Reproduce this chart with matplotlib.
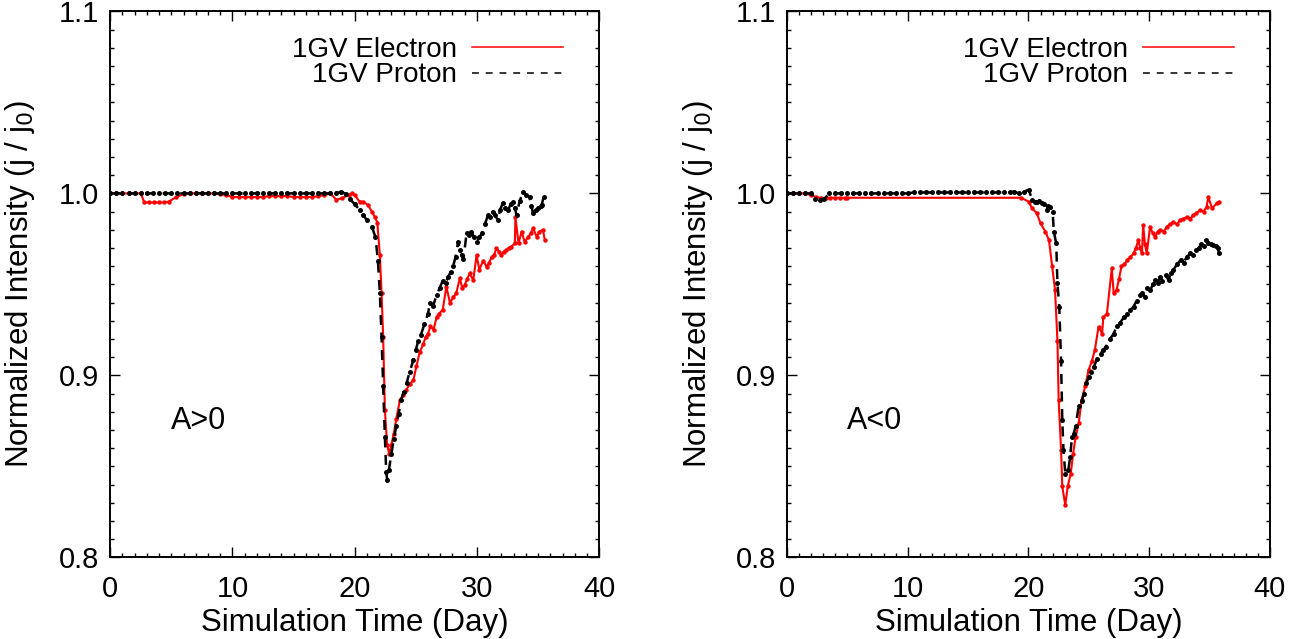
import matplotlib
matplotlib.use("Agg")
import matplotlib.pyplot as plt
from matplotlib.lines import Line2D
from matplotlib.ticker import MultipleLocator

plt.rcParams['font.family'] = ['Liberation Sans', 'DejaVu Sans']

# ---- A>0 : 1GV electron ----
t_elec_pos = [0.0, 0.5, 1.0, 1.5, 2.0, 2.5, 2.8, 3.2, 3.6, 4.0, 4.4, 4.8, 5.4, 6.0, 6.5,
              7.0, 7.5, 8.0, 8.5, 9.0, 9.5, 10.0, 10.5, 11.0, 11.5, 12.0, 12.5, 13.0, 13.5,
              14.0, 14.5, 15.0, 15.5, 16.0, 16.5, 17.0, 17.5, 18.0, 18.5, 19.0, 19.5, 19.75,
              20.0, 20.4, 20.7, 21.1, 21.4, 21.65, 21.85, 22.06, 22.2, 22.33, 22.47, 22.65,
              22.82, 23.0, 23.2, 23.4, 23.7, 23.95, 24.2, 24.5, 24.8, 25.05, 25.33, 25.6,
              25.8, 26.0, 26.2, 26.45, 26.7, 26.9, 27.2, 27.5, 27.8, 28.05, 28.3, 28.6, 28.8,
              29.0, 29.2, 29.4, 29.7, 29.97, 30.2, 30.5, 30.8, 31.0, 31.2, 31.4, 31.6, 31.8,
              32.0, 32.2, 32.4, 32.6, 32.8, 33.1, 33.15, 33.4, 33.65, 33.9, 34.2, 34.4, 34.6,
              34.9, 35.1, 35.4, 35.55]
j_elec_pos = [1.0, 1.0, 1.0, 1.0, 1.0, 1.0, 0.995, 0.995, 0.995, 0.995, 0.995, 0.9955, 0.998,
              0.9995, 1.0, 1.0, 1.0, 1.0, 1.0, 0.9995, 0.999, 0.998, 0.998, 0.998, 0.998,
              0.998, 0.998, 0.9985, 0.9985, 0.9985, 0.9985, 0.998, 0.998, 0.998, 0.998,
              0.9985, 0.999, 1.0, 0.9965, 0.9975, 0.999, 1.0, 0.999, 0.9955, 0.9954, 0.9936,
              0.990, 0.987, 0.984, 0.966, 0.945, 0.921, 0.881, 0.862, 0.857, 0.862, 0.868,
              0.876, 0.8865, 0.889, 0.892, 0.895, 0.8974, 0.905, 0.913, 0.917, 0.921, 0.923,
              0.927, 0.925, 0.932, 0.934, 0.936, 0.9487, 0.9397, 0.943, 0.945, 0.9533, 0.948,
              0.9496, 0.953, 0.956, 0.9524, 0.966, 0.958, 0.963, 0.9597, 0.962, 0.965, 0.966,
              0.970, 0.968, 0.966, 0.968, 0.969, 0.970, 0.9707, 0.9725, 0.987, 0.9725, 0.979,
              0.9734, 0.976, 0.978, 0.9808, 0.976, 0.979, 0.980, 0.9743]

# ---- A>0 : 1GV proton ----
t_prot_pos = [0.0, 0.5, 1.0, 1.5, 2.0, 2.5, 3.0, 3.5, 4.0, 4.5, 5.0, 5.5, 6.0, 6.5, 7.0, 7.5,
              8.0, 8.5, 9.0, 9.5, 10.0, 10.5, 11.0, 11.5, 12.0, 12.5, 13.0, 13.5, 14.0, 14.5,
              15.0, 15.5, 16.0, 16.5, 17.0, 17.5, 18.0, 18.5, 18.9, 19.3, 19.6, 20.0, 20.4,
              20.7, 21.0, 21.4, 21.7, 21.9, 22.06, 22.2, 22.33, 22.47, 22.58, 22.66, 22.8,
              23.0, 23.2, 23.4, 23.6, 23.8, 24.0, 24.24, 24.5, 24.8, 25.0, 25.2, 25.4, 25.7,
              26.0, 26.15, 26.4, 26.7, 26.95, 27.2, 27.45, 27.65, 27.85, 28.05, 28.25, 28.46,
              28.6, 28.75, 28.9, 29.15, 29.35, 29.55, 29.75, 29.97, 30.2, 30.4, 30.65, 30.9,
              31.1, 31.3, 31.5, 31.7, 31.9, 32.1, 32.3, 32.55, 32.75, 32.96, 33.1, 33.24, 33.5,
              33.8, 34.05, 34.3, 34.45, 34.6, 34.8, 35.0, 35.2, 35.3, 35.45]
j_prot_pos = [1.0, 1.0, 1.0, 1.0, 1.0, 1.0, 1.0, 1.0, 1.0, 1.0, 1.0, 1.0, 1.0, 1.0, 1.0, 1.0,
              1.0, 1.0, 1.0, 1.0, 1.0, 1.0, 1.0, 1.0, 1.0, 1.0, 1.0, 1.0, 1.0, 1.0,
              1.0, 1.0, 1.0, 1.0, 1.0, 1.0, 1.0, 1.0, 1.001, 0.9995, 0.997, 0.994, 0.991,
              0.988, 0.9853, 0.9817, 0.976, 0.963, 0.945, 0.921, 0.894, 0.8663, 0.847, 0.8425,
              0.848, 0.857, 0.865, 0.872, 0.879, 0.8865, 0.891, 0.8956, 0.902, 0.9084, 0.914,
              0.919, 0.922, 0.928, 0.934, 0.9396, 0.938, 0.944, 0.948, 0.952, 0.951, 0.954,
              0.957, 0.960, 0.965, 0.9734, 0.969, 0.966, 0.964, 0.978, 0.977, 0.979, 0.976,
              0.9734, 0.976, 0.978, 0.983, 0.988, 0.987, 0.990, 0.988, 0.9853, 0.991, 0.9945,
              0.992, 0.9908, 0.994, 0.9954, 0.992, 0.988, 0.996, 1.001, 0.999, 0.998, 0.993,
              0.989, 0.991, 0.9918, 0.993, 0.9936, 0.998]

# ---- A<0 : 1GV electron ----
t_elec_neg = [0.0, 0.5, 1.0, 1.5, 2.0, 2.4, 2.8, 3.2, 3.6, 4.0, 4.4, 4.8, 5.0, 19.4, 20.03,
              20.3, 20.7, 21.0, 21.4, 21.7, 21.96, 22.2, 22.4, 22.5, 22.7, 22.8, 23.05, 23.25,
              23.5, 23.7, 23.9, 24.16, 24.4, 24.7, 24.98, 25.26, 25.5, 25.8, 26.1, 26.2, 26.5,
              26.9, 27.06, 27.3, 27.5, 27.7, 27.95, 28.2, 28.45, 28.7, 28.9, 29.1, 29.25, 29.4,
              29.5, 29.65, 29.8, 30.07, 30.3, 30.5, 30.7, 30.9, 31.2, 31.45, 31.7, 32.0, 32.3,
              32.55, 32.8, 33.1, 33.4, 33.65, 33.9, 34.2, 34.5, 34.75, 34.9, 35.2, 35.6, 35.8]
j_elec_neg = [1.0, 1.0, 1.0, 1.0, 0.999, 0.998, 0.9975, 0.9975, 0.9976, 0.9976, 0.9976,
              0.9976, 0.9976, 0.9976, 0.9954, 0.9918, 0.989, 0.9835, 0.979, 0.9743, 0.960,
              0.947, 0.919, 0.8864, 0.859, 0.839, 0.8287, 0.839, 0.846, 0.857, 0.866, 0.8736,
              0.8864, 0.894, 0.903, 0.908, 0.914, 0.9267, 0.923, 0.932, 0.934, 0.9588, 0.945,
              0.947, 0.953, 0.960, 0.961, 0.9634, 0.965, 0.967, 0.970, 0.9743, 0.970, 0.967,
              0.9826, 0.972, 0.967, 0.9817, 0.978, 0.976, 0.979, 0.980, 0.979, 0.9817, 0.983,
              0.9844, 0.983, 0.9853, 0.986, 0.987, 0.986, 0.988, 0.989, 0.9908, 0.990, 0.9926,
              0.998, 0.9918, 0.9945, 0.9954]

# ---- A<0 : 1GV proton ----
t_prot_neg = [0.0, 0.5, 1.0, 1.5, 2.0, 2.3, 2.7, 3.1, 3.5, 4.0, 4.5, 5.0, 5.5, 6.0, 6.5, 7.0,
              7.5, 8.0, 8.5, 9.0, 9.5, 10.0, 10.5, 11.0, 11.5, 12.0, 12.5, 13.0, 13.5, 14.0,
              14.5, 15.0, 15.5, 16.0, 16.5, 17.0, 17.5, 18.0, 18.5, 18.8, 19.2, 19.6, 20.03,
              20.3, 20.5, 20.7, 20.9, 21.1, 21.3, 21.5, 21.65, 21.8, 22.0, 22.1, 22.3, 22.4,
              22.55, 22.7, 22.8, 22.9, 23.05, 23.3, 23.45, 23.6, 23.75, 23.9, 24.16, 24.4,
              24.6, 24.8, 25.0, 25.2, 25.4, 25.7, 25.97, 26.2, 26.4, 26.75, 27.06, 27.3, 27.6,
              27.9, 28.2, 28.45, 28.7, 28.95, 29.2, 29.4, 29.65, 29.85, 30.1, 30.3, 30.5, 30.7,
              30.9, 31.1, 31.35, 31.6, 31.8, 32.0, 32.3, 32.6, 32.85, 33.1, 33.4, 33.65, 33.9,
              34.1, 34.3, 34.5, 34.7, 34.9, 35.1, 35.3, 35.5, 35.7, 35.75]
j_prot_neg = [1.0, 1.0, 1.0, 1.0, 1.0, 0.997, 0.9965, 0.997, 1.0, 1.0, 1.0, 1.0, 1.0, 1.0,
              1.0, 1.0, 1.0, 1.0, 1.0, 1.0, 1.0, 1.0, 1.0005, 1.0005, 1.0005, 1.0005, 1.0005,
              1.0005, 1.0005, 1.0005, 1.0005, 1.0005, 1.0005, 1.0005, 1.0005, 1.0005, 1.0005,
              1.0005, 1.0005, 1.001, 1.0, 1.001, 1.002, 0.9963, 0.995, 0.9954, 0.996, 0.9945,
              0.994, 0.9908, 0.993, 0.9926, 0.990, 0.979, 0.9725, 0.9505, 0.9377, 0.908,
              0.8754, 0.859, 0.846, 0.848, 0.855, 0.866, 0.868, 0.872, 0.883, 0.886, 0.890,
              0.896, 0.899, 0.902, 0.9047, 0.909, 0.912, 0.914, 0.9157, 0.920, 0.923, 0.927,
              0.929, 0.932, 0.934, 0.936, 0.9377, 0.941, 0.944, 0.945, 0.943, 0.948, 0.9469,
              0.950, 0.9524, 0.951, 0.954, 0.952, 0.955, 0.9524, 0.956, 0.958, 0.961, 0.9634,
              0.962, 0.965, 0.967, 0.966, 0.9688, 0.970, 0.972, 0.971, 0.9743, 0.973, 0.972,
              0.9716, 0.971, 0.970, 0.9674]

panels = [
    ("A>0", t_elec_pos, j_elec_pos, t_prot_pos, j_prot_pos),
    ("A<0", t_elec_neg, j_elec_neg, t_prot_neg, j_prot_neg),
]
axes_rects = [[0.0845, 0.1277, 0.375, 0.8545], [0.6035, 0.1277, 0.3704, 0.8545]]

red = '#ff0000'

fig = plt.figure(figsize=(13.04, 6.39), dpi=100)

for rect, (tag, te, je, tp, jp) in zip(axes_rects, panels):
    ax = fig.add_axes(rect)
    ax.plot(te, je, color=red, lw=1.5, marker='o', ms=3.2, mew=0, zorder=3)
    ax.plot(tp, jp, color='black', lw=1.8, ls='--', dashes=(4.0, 3.0), marker='o',
            ms=3.6, mew=0, zorder=4)

    ax.set_xlim(0, 40)
    ax.set_ylim(0.8, 1.1)
    ax.xaxis.set_major_locator(MultipleLocator(10))
    ax.xaxis.set_minor_locator(MultipleLocator(1))
    ax.yaxis.set_major_locator(MultipleLocator(0.1))
    ax.yaxis.set_minor_locator(MultipleLocator(0.01))
    ax.yaxis.set_major_formatter(plt.FormatStrFormatter('%.1f'))
    ax.tick_params(which='both', direction='in', top=True, right=True, width=1.0,
                   labelsize=21)
    ax.tick_params(which='major', length=7.5)
    ax.tick_params(which='minor', length=3.2)
    ax.tick_params(axis='x', which='major', pad=13)
    ax.tick_params(axis='y', which='major', pad=8)
    for sp in ax.spines.values():
        sp.set_linewidth(1.4)

    ax.set_xlabel('Simulation Time (Day)', fontsize=22.5, labelpad=3)
    ax.set_ylabel('Normalized Intensity (j / j$_0$)', fontsize=22.5)
    ax.yaxis.set_label_coords(-0.15, 0.5)

    ax.text(5.0, 0.875, tag, fontsize=22, ha='left', va='center')

    handles = [Line2D([], [], color=red, lw=1.1),
               Line2D([], [], color='black', lw=1.1, ls='--', dashes=(4.5, 4.5))]
    ax.legend(handles, ['1GV Electron', '1GV Proton'], loc='upper right',
              bbox_to_anchor=(0.925, 0.953), frameon=False, markerfirst=False,
              fontsize=20, handlelength=3.25, handletextpad=0.55, labelspacing=-0.02,
              borderpad=0, borderaxespad=0)

fig.savefig('out.png', dpi=100)
